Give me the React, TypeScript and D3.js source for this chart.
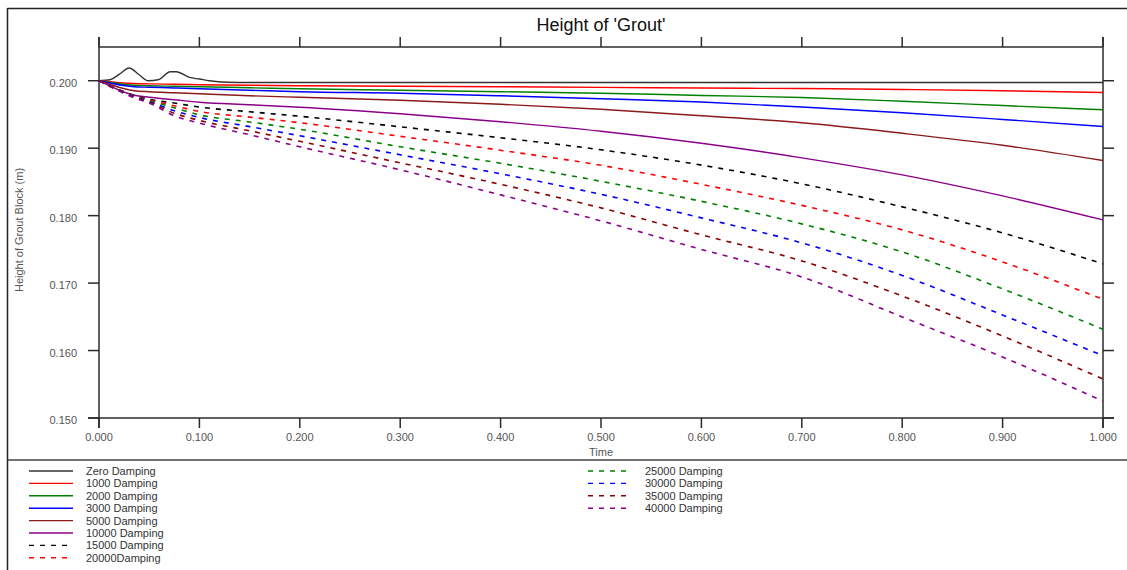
import React from "react";
import * as d3 from "d3";

// ---------- data ----------
const times = [0, 0.035, 0.05, 0.075, 0.1, 0.15, 0.2, 0.3, 0.4, 0.5, 0.6, 0.7, 0.8, 0.9, 1.0];

const zeroTimes = [0, 0.011, 0.02, 0.03, 0.04, 0.049, 0.059, 0.071, 0.077, 0.09, 0.1, 0.11, 0.127, 0.15, 0.3, 0.5, 0.7, 1.0];
const zeroDamping = [0.2, 0.20015, 0.20093, 0.20188, 0.20089, 0.2, 0.20015, 0.20134, 0.20134, 0.20049, 0.20025, 0.2, 0.19978, 0.19973, 0.19973, 0.19973, 0.19973, 0.19973];

const d1000 = [0.2, 0.19958, 0.19953, 0.19947, 0.19941, 0.19933, 0.19926, 0.19918, 0.19911, 0.19901, 0.19892, 0.19884, 0.19871, 0.19852, 0.19826];
const d2000 = [0.2, 0.19933, 0.19926, 0.19918, 0.19911, 0.19896, 0.19881, 0.19859, 0.19837, 0.19815, 0.19782, 0.19752, 0.19696, 0.19632, 0.1957];
const d3000 = [0.2, 0.19911, 0.19904, 0.19893, 0.19881, 0.19859, 0.19837, 0.19815, 0.19777, 0.19733, 0.19684, 0.19611, 0.19525, 0.19426, 0.19322];
const d5000 = [0.2, 0.19852, 0.19837, 0.19822, 0.19807, 0.19777, 0.19755, 0.19711, 0.19651, 0.19577, 0.19481, 0.19377, 0.19221, 0.19043, 0.18817];
const d10000 = [0.2, 0.19785, 0.19755, 0.19718, 0.19681, 0.19644, 0.19607, 0.1951, 0.19392, 0.19251, 0.19073, 0.18857, 0.18605, 0.18293, 0.17937];
const d15000 = [0.2, 0.19785, 0.19725, 0.19669, 0.1961, 0.1954, 0.19473, 0.19317, 0.19154, 0.18976, 0.18749, 0.18471, 0.1813, 0.17744, 0.17284];
const d20000 = [0.2, 0.19777, 0.19714, 0.19629, 0.19544, 0.19461, 0.19377, 0.19176, 0.18969, 0.18746, 0.18464, 0.18152, 0.17789, 0.17314, 0.1676];
const d25000 = [0.2, 0.1977, 0.19703, 0.19599, 0.19495, 0.19389, 0.1928, 0.19021, 0.18776, 0.18509, 0.18212, 0.17878, 0.17462, 0.16913, 0.16315];
const d30000 = [0.2, 0.19763, 0.19691, 0.19555, 0.19455, 0.1932, 0.19184, 0.18902, 0.1862, 0.18316, 0.17967, 0.17596, 0.17114, 0.16527, 0.15924];
const d35000 = [0.2, 0.19755, 0.19681, 0.19518, 0.19411, 0.19258, 0.19102, 0.18783, 0.18464, 0.18115, 0.17715, 0.17329, 0.16809, 0.16216, 0.15578];
const d40000 = [0.2, 0.19748, 0.19669, 0.19481, 0.19372, 0.19199, 0.19021, 0.18679, 0.18308, 0.17922, 0.17499, 0.17091, 0.16498, 0.15904, 0.15251];

const xTicks = [0, 0.1, 0.2, 0.3, 0.4, 0.5, 0.6, 0.7, 0.8, 0.9, 1.0];
const yTicks = [0.15, 0.16, 0.17, 0.18, 0.19, 0.2];

const seriesNames = [
  "Zero Damping", "1000 Damping", "2000 Damping", "3000 Damping", "5000 Damping", "10000 Damping",
  "15000 Damping", "20000Damping", "25000 Damping", "30000 Damping", "35000 Damping", "40000 Damping",
];
const seriesColors = [
  "#333333", "#ff0000", "#008000", "#0000ff", "#8b1a1a", "#8b008b",
  "#000000", "#ff0000", "#008000", "#0000ff", "#8b0000", "#8b008b",
];
const seriesDashed = [false, false, false, false, false, false, true, true, true, true, true, true];
const seriesValues = [zeroDamping, d1000, d2000, d3000, d5000, d10000, d15000, d20000, d25000, d30000, d35000, d40000];

// ---------- layout ----------
const W = 1127;
const H = 570;
const FONT = "'Liberation Sans', Arial, sans-serif";

export default function App() {
  const x = d3.scaleLinear().domain([0, 1]).range([99, 1103]);
  const y = d3.scaleLinear().domain([0.15, 0.205]).range([418, 47]);

  const line = d3
    .line<[number, number]>()
    .x((d) => x(d[0]))
    .y((d) => y(d[1]))
    .curve(d3.curveMonotoneX);

  const paths = seriesValues.map((vals, i) => {
    const ts = i === 0 ? zeroTimes : times;
    const pts: [number, number][] = vals.map((v, j) => [ts[j], v]);
    return line(pts) || "";
  });

  const axisColor = "#2b2b2b";
  const labelColor = "#555555";
  const top = y(0.205);
  const bottom = y(0.15);
  const left = x(0);
  const right = x(1);

  const legendLeft = seriesNames.slice(0, 8).map((n, i) => ({ i, n, row: i, col: 0 }));
  const legendRight = seriesNames.slice(8).map((n, k) => ({ i: k + 8, n, row: k, col: 1 }));
  const legendItems = [...legendLeft, ...legendRight];

  return (
    <svg
      width={W}
      height={H}
      style={{ position: "absolute", left: 0, top: 0, background: "#fff" }}
      fontFamily={FONT}
    >
      {/* outer frame */}
      <line x1={7.5} y1={8.5} x2={W} y2={8.5} stroke="#222" strokeWidth={1.5} />
      <line x1={7.5} y1={8} x2={7.5} y2={H} stroke="#222" strokeWidth={1.5} />
      <line x1={7.5} y1={460} x2={W} y2={460} stroke="#444" strokeWidth={1.5} />

      {/* title */}
      <text x={601} y={31} textAnchor="middle" fontSize={18} fill="#111">
        Height of 'Grout'
      </text>

      {/* axes frame */}
      <line x1={left} y1={top} x2={right} y2={top} stroke={axisColor} strokeWidth={1.5} />
      <line x1={left - 11} y1={bottom} x2={right + 11} y2={bottom} stroke={axisColor} strokeWidth={1.5} />
      <line x1={left} y1={top - 10} x2={left} y2={bottom + 10} stroke={axisColor} strokeWidth={1.5} />
      <line x1={right} y1={top - 10} x2={right} y2={bottom + 10} stroke={axisColor} strokeWidth={1.5} />

      {/* x ticks */}
      {xTicks.map((t) => (
        <g key={"x" + t}>
          <line x1={x(t)} x2={x(t)} y1={top} y2={top - 10} stroke={axisColor} strokeWidth={1.5} />
          <line x1={x(t)} x2={x(t)} y1={bottom} y2={bottom + 10} stroke={axisColor} strokeWidth={1.5} />
          <text x={x(t)} y={bottom + 23} textAnchor="middle" fontSize={11} fill={labelColor}>
            {d3.format(".3f")(t)}
          </text>
        </g>
      ))}

      {/* y ticks */}
      {yTicks.map((t) => (
        <g key={"y" + t}>
          <line x1={left - 11} x2={left} y1={y(t)} y2={y(t)} stroke={axisColor} strokeWidth={1.5} />
          <line x1={right} x2={right + 11} y1={y(t)} y2={y(t)} stroke={axisColor} strokeWidth={1.5} />
          <text x={77} y={y(t) + 6} textAnchor="end" fontSize={11} fill={labelColor}>
            {d3.format(".3f")(t)}
          </text>
        </g>
      ))}

      {/* axis titles */}
      <text x={601} y={456} textAnchor="middle" fontSize={11} fill={labelColor}>
        Time
      </text>
      <text
        transform={`translate(23,230) rotate(-90)`}
        textAnchor="middle"
        fontSize={11}
        fill={labelColor}
      >
        Height of Grout Block (m)
      </text>

      {/* series */}
      {paths.map((p, i) => (
        <path
          key={"s" + i}
          d={p}
          fill="none"
          stroke={seriesColors[i]}
          strokeWidth={seriesDashed[i] ? 1.6 : 1.4}
          strokeDasharray={seriesDashed[i] ? "5,6" : undefined}
        />
      ))}

      {/* legend */}
      {legendItems.map((it) => {
        const cy = 471 + it.row * 12.4;
        const x1 = it.col === 0 ? 29 : 588;
        const x2 = it.col === 0 ? 73 : 628;
        const tx = it.col === 0 ? 86 : 645;
        return (
          <g key={"l" + it.i}>
            <line
              x1={x1}
              x2={x2}
              y1={cy}
              y2={cy}
              stroke={seriesColors[it.i]}
              strokeWidth={1.4}
              strokeDasharray={seriesDashed[it.i] ? "5,6" : undefined}
            />
            <text x={tx} y={cy + 4} fontSize={11} fill="#333">
              {it.n}
            </text>
          </g>
        );
      })}
    </svg>
  );
}
